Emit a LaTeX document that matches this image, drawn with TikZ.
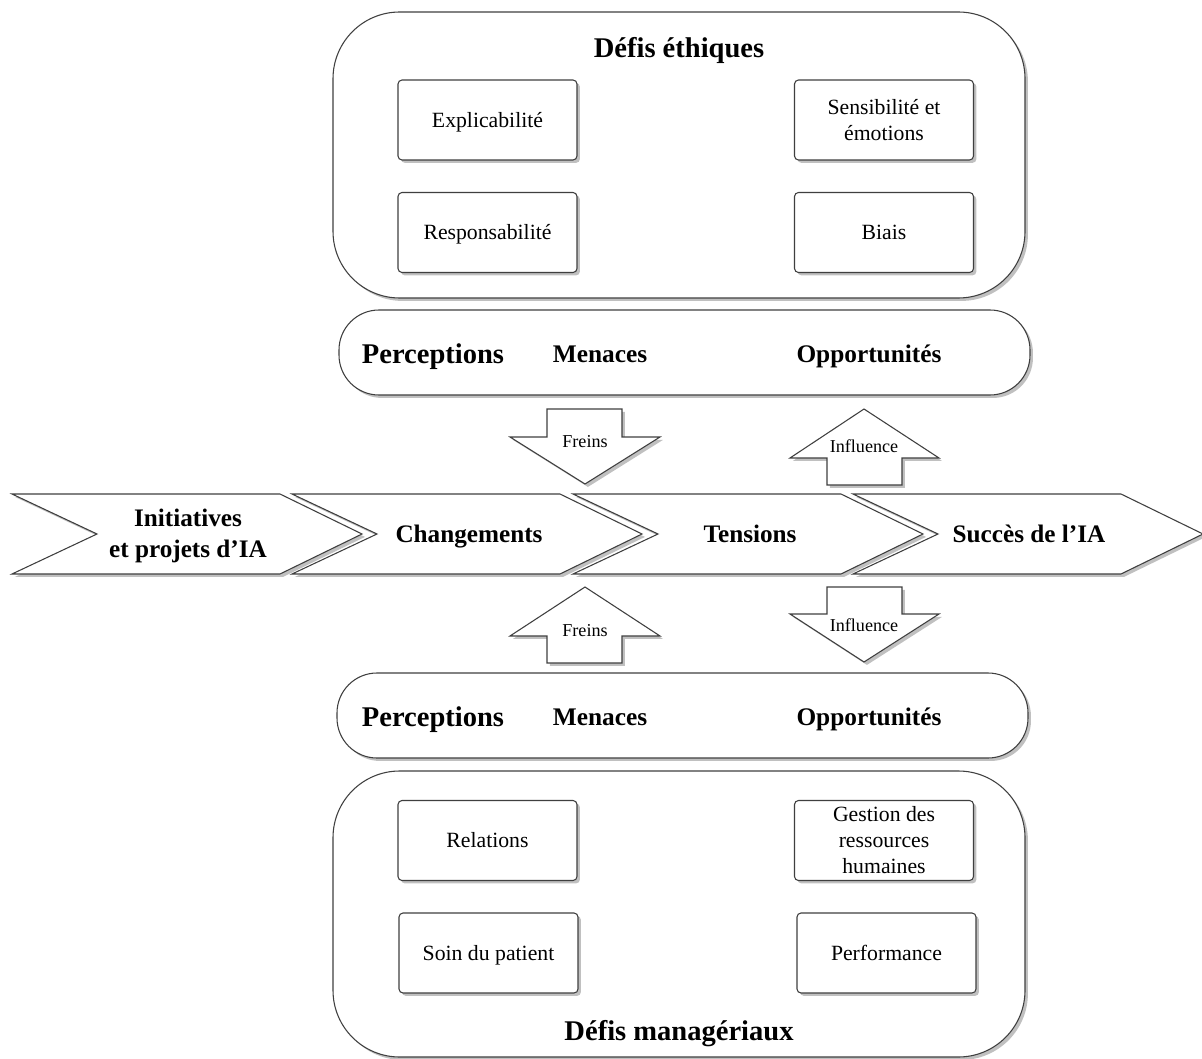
\documentclass[tikz,border=0pt]{standalone}
\usepackage{fontspec}
\setmainfont{Liberation Serif}
\usetikzlibrary{shadows}
\definecolor{edge}{HTML}{3F3F3F}
\tikzset{
 sh/.style={drop shadow={shadow xshift=2.2pt,shadow yshift=-2.2pt,opacity=0.35,fill=black!70}},
 frame/.style={draw=edge,line width=0.8pt,fill=white,sh},
 bigbox/.style={frame,rounded corners=50pt,minimum width=519pt,minimum height=214.5pt,inner sep=0pt},
 bar/.style={frame,rounded corners=30pt,minimum width=518.25pt,minimum height=63.75pt,inner sep=0pt},
 item/.style={frame,rounded corners=3pt,minimum width=134.25pt,minimum height=60pt,align=center,font=\fontsize{16.3}{19.5}\selectfont,inner sep=2pt},
 item1/.style={item,text height=10.8pt,text depth=0pt},
 title/.style={font=\fontsize{21.4}{25}\selectfont\bfseries,text height=14.1pt,text depth=0pt},
 subtitle/.style={font=\fontsize{19}{23}\selectfont\bfseries,text height=12.5pt,text depth=0pt},
 chev/.style={frame,line join=miter},
 chevtext/.style={font=\fontsize{18.9}{23}\selectfont\bfseries,align=center},
 chevtext1/.style={chevtext,text height=12.5pt,text depth=0pt},
 blockarrow/.style={frame,line join=miter},
 arrowtext/.style={font=\fontsize{13.6}{16}\selectfont,text height=9pt,text depth=0pt},
}
\begin{document}
\begin{tikzpicture}[x=0.75pt,y=-0.75pt]
\fill[white] (0,0) rectangle (1202,1059);
\useasboundingbox (0,0) rectangle (1202,1059);

% top container
\node[bigbox] (eth) at (679,155) {};
\node[title] (ethT) at (679,48) {Défis éthiques};
\node[item1] (expl) at (487.5,120) {Explicabilité};
\node[item] (sens) at (884,120) {Sensibilité et\\émotions};
\node[item1] (resp) at (487.5,232.5) {Responsabilité};
\node[item1] (biais) at (884,232.5) {Biais};

% top perceptions bar
\node[bar] (barT) at (684.5,352.5) {};
\node[title] (percT) at (433,354) {Perceptions};
\node[subtitle] (menT) at (600,354) {Menaces};
\node[subtitle] (oppT) at (869,354) {Opportunités};

% top block arrows
\draw[blockarrow] (547,409) -- (622,409) -- (622,437) -- (660,437) -- (585,484) -- (510,437) -- (547,437) -- cycle;
\node[arrowtext] (freinsT) at (585,441) {Freins};
\draw[blockarrow] (864,409) -- (939,458) -- (902,458) -- (902,485) -- (827,485) -- (827,458) -- (790,458) -- cycle;
\node[arrowtext] (inflT) at (864,446) {Influence};

% chevrons
\foreach \L in {12,292,573,853}{
  \draw[chev] (\L,494) -- ++(268,0) -- ++(82,40) -- ++(-82,40) -- (\L,574) -- ++(85,-40) -- cycle;
}
\node[chevtext] (init) at (188,536) {Initiatives\\et projets d’IA};
\node[chevtext1] (chg) at (469,534) {Changements};
\node[chevtext1] (tens) at (750,534) {Tensions};
\node[chevtext1] (succ) at (1029,534) {Succès de l’IA};

% bottom block arrows
\draw[blockarrow] (585,587) -- (660,636) -- (622,636) -- (622,663) -- (547,663) -- (547,636) -- (510,636) -- cycle;
\node[arrowtext] (freinsB) at (585,630) {Freins};
\draw[blockarrow] (827,587) -- (902,587) -- (902,614) -- (939,614) -- (864,662) -- (790,614) -- (827,614) -- cycle;
\node[arrowtext] (inflB) at (864,625) {Influence};

% bottom perceptions bar
\node[bar] (barB) at (682.5,715.5) {};
\node[title] (percB) at (433,717) {Perceptions};
\node[subtitle] (menB) at (600,717) {Menaces};
\node[subtitle] (oppB) at (869,717) {Opportunités};

% bottom container
\node[bigbox] (man) at (679,914) {};
\node[title] (manT) at (679,1031) {Défis managériaux};
\node[item1] (rel) at (487.5,840.5) {Relations};
\node[item] (grh) at (884,840.5) {Gestion des\\ressources\\humaines};
\node[item1] (soin) at (488.5,953) {Soin du patient};
\node[item1] (perf) at (886.5,953) {Performance};
\end{tikzpicture}
\end{document}
